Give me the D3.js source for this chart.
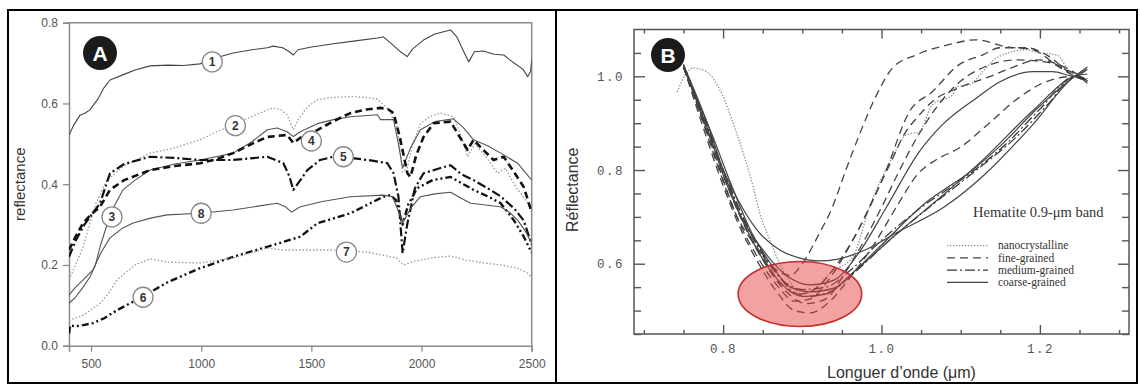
<!DOCTYPE html>
<html>
<head>
<meta charset="utf-8">
<script src="https://cdn.jsdelivr.net/npm/d3@7"></script>
<style>
  body { margin: 0; background: #fff; }
  svg { display: block; }
</style>
</head>
<body>
<div id="chart"></div>
<script>
// ---- panel A : reflectance spectra, wavelength (nm) / reflectance ----
const aTicksX = [500, 1000, 1500, 2000, 2500];
const aTicksY = [0, 0.2, 0.4, 0.6, 0.8];

const a1 = [[400,0.522],[420,0.545],[450,0.571],[470,0.575],[495,0.584],[530,0.61],[560,0.64],[586,0.658],[650,0.672],[700,0.683],[768,0.693],[850,0.695],[920,0.694],[995,0.698],[1060,0.712],[1145,0.725],[1230,0.733],[1300,0.738],[1327,0.742],[1370,0.738],[1400,0.728],[1418,0.72],[1440,0.733],[1500,0.74],[1600,0.748],[1700,0.755],[1800,0.762],[1827,0.765],[1859,0.75],[1900,0.73],[1935,0.716],[1960,0.735],[2009,0.757],[2060,0.772],[2132,0.782],[2160,0.765],[2190,0.73],[2214,0.703],[2240,0.728],[2280,0.73],[2330,0.722],[2373,0.72],[2420,0.7],[2460,0.685],[2482,0.666],[2495,0.68],[2500,0.708]];
const a2 = [[400,0.163],[430,0.2],[464,0.245],[520,0.35],[572,0.41],[650,0.445],[768,0.477],[880,0.49],[995,0.51],[1070,0.53],[1145,0.547],[1230,0.568],[1300,0.584],[1327,0.589],[1360,0.585],[1390,0.572],[1418,0.535],[1440,0.56],[1480,0.59],[1527,0.609],[1600,0.615],[1677,0.617],[1750,0.615],[1800,0.611],[1850,0.585],[1890,0.542],[1914,0.43],[1935,0.44],[1960,0.5],[1995,0.55],[2040,0.568],[2086,0.576],[2145,0.567],[2180,0.52],[2209,0.468],[2240,0.5],[2290,0.47],[2345,0.427],[2380,0.44],[2420,0.4],[2460,0.37],[2500,0.34]];
const a3 = [[400,0.105],[430,0.12],[464,0.145],[495,0.17],[520,0.2],[541,0.245],[590,0.33],[645,0.386],[700,0.41],[768,0.435],[880,0.45],[995,0.46],[1145,0.477],[1230,0.505],[1300,0.535],[1345,0.539],[1390,0.53],[1418,0.518],[1450,0.53],[1527,0.55],[1600,0.56],[1677,0.567],[1800,0.572],[1814,0.56],[1873,0.56],[1895,0.5],[1914,0.44],[1950,0.49],[1995,0.535],[2060,0.555],[2145,0.562],[2190,0.54],[2236,0.51],[2300,0.495],[2359,0.477],[2436,0.452],[2470,0.43],[2500,0.41]];
const a4 = [[400,0.237],[430,0.27],[464,0.304],[500,0.325],[541,0.344],[586,0.386],[650,0.41],[768,0.435],[880,0.445],[995,0.452],[1070,0.462],[1145,0.477],[1230,0.5],[1300,0.517],[1390,0.522],[1418,0.502],[1450,0.515],[1527,0.534],[1600,0.556],[1677,0.576],[1750,0.585],[1814,0.589],[1850,0.585],[1873,0.576],[1900,0.52],[1936,0.427],[1950,0.418],[1975,0.47],[2009,0.517],[2055,0.551],[2132,0.555],[2170,0.52],[2209,0.485],[2236,0.51],[2280,0.485],[2327,0.46],[2373,0.468],[2420,0.43],[2464,0.393],[2500,0.33]];
const a5 = [[400,0.22],[430,0.26],[470,0.3],[541,0.353],[586,0.427],[650,0.45],[768,0.468],[880,0.465],[995,0.46],[1145,0.46],[1300,0.468],[1373,0.452],[1400,0.42],[1418,0.386],[1450,0.41],[1482,0.435],[1540,0.46],[1600,0.468],[1677,0.465],[1755,0.46],[1845,0.452],[1873,0.427],[1895,0.37],[1914,0.229],[1935,0.3],[1970,0.39],[2009,0.427],[2086,0.44],[2132,0.447],[2180,0.425],[2236,0.41],[2300,0.39],[2359,0.37],[2420,0.34],[2464,0.31],[2500,0.25]];
const a6 = [[400,0.03],[405,0.05],[430,0.048],[464,0.051],[509,0.056],[560,0.068],[618,0.088],[723,0.118],[850,0.158],[995,0.192],[1145,0.22],[1300,0.245],[1450,0.27],[1527,0.303],[1677,0.328],[1827,0.369],[1859,0.373],[1885,0.36],[1914,0.3],[1940,0.35],[1980,0.39],[2050,0.41],[2132,0.418],[2190,0.4],[2236,0.386],[2300,0.37],[2359,0.353],[2420,0.31],[2464,0.27],[2500,0.23]];
const a7 = [[400,0.063],[464,0.075],[541,0.105],[580,0.13],[618,0.163],[700,0.2],[768,0.215],[845,0.207],[995,0.205],[1145,0.217],[1300,0.242],[1373,0.237],[1450,0.237],[1600,0.237],[1750,0.232],[1827,0.224],[1886,0.217],[1918,0.2],[1960,0.208],[2050,0.218],[2132,0.222],[2200,0.212],[2282,0.205],[2360,0.2],[2436,0.192],[2480,0.18],[2500,0.17]];
const a8 = [[400,0.125],[430,0.145],[464,0.163],[509,0.188],[545,0.23],[586,0.267],[640,0.29],[691,0.304],[770,0.316],[845,0.324],[995,0.328],[1145,0.336],[1250,0.345],[1345,0.353],[1380,0.345],[1410,0.331],[1450,0.344],[1550,0.357],[1677,0.369],[1827,0.373],[1868,0.369],[1890,0.34],[1914,0.304],[1950,0.34],[1995,0.369],[2060,0.376],[2132,0.38],[2180,0.365],[2223,0.353],[2300,0.348],[2359,0.344],[2400,0.33],[2436,0.311],[2470,0.285],[2500,0.254]];

// curve number labels (wavelength, reflectance)
const aLabels = [['1',1050,0.703],['2',1155,0.545],['3',595,0.319],['4',1500,0.507],['5',1645,0.468],['6',736,0.12],['7',1659,0.232],['8',1000,0.328]];

// ---- panel B : hematite 0.9 um band, wavelength (um) / reflectance ----
const bMajorX = [0.8, 1.0, 1.2];
const bMinorX = [0.7, 0.75, 0.85, 0.9, 0.95, 1.05, 1.1, 1.15, 1.25, 1.3];
const bMajorY = [0.6, 0.8, 1.0];
const bMinorY = [0.45, 0.5, 0.55, 0.65, 0.7, 0.75, 0.85, 0.9, 0.95, 1.05];

const bNano = [[0.742,0.967],[0.752,1.002],[0.762,1.018],[0.779,1.01],[0.796,0.971],[0.817,0.879],[0.838,0.764],[0.846,0.71],[0.859,0.651],[0.871,0.602],[0.885,0.56],[0.9,0.535],[0.915,0.545],[0.935,0.58],[0.964,0.615],[0.985,0.722],[1.014,0.828],[1.031,0.875],[1.048,0.882],[1.064,0.939],[1.09,0.961],[1.095,0.978],[1.111,0.982],[1.128,1.01],[1.145,1.039],[1.183,1.057],[1.199,1.05],[1.221,1.046],[1.241,1.003],[1.259,0.993]];
const bFine1 = [[0.75,1.025],[0.775,0.9],[0.795,0.8],[0.815,0.71],[0.84,0.64],[0.865,0.59],[0.885,0.575],[0.9,0.6],[0.92,0.66],[0.938,0.721],[0.955,0.8],[0.972,0.875],[0.994,0.961],[1.014,1.018],[1.044,1.046],[1.086,1.068],[1.119,1.078],[1.158,1.063],[1.191,1.057],[1.221,1.025],[1.241,1.008],[1.259,0.993]];
const bFine2 = [[0.75,1.02],[0.78,0.88],[0.8,0.78],[0.82,0.69],[0.845,0.61],[0.87,0.55],[0.89,0.52],[0.91,0.525],[0.935,0.57],[0.964,0.651],[0.985,0.72],[1.006,0.8],[1.035,0.924],[1.064,0.967],[1.098,1.025],[1.128,1.046],[1.149,1.061],[1.183,1.061],[1.212,1.042],[1.241,1.003],[1.26,0.99]];
const bFine3 = [[0.75,1.02],[0.78,0.885],[0.8,0.79],[0.822,0.7],[0.848,0.62],[0.872,0.56],[0.895,0.535],[0.915,0.545],[0.94,0.59],[0.97,0.67],[0.99,0.74],[1.01,0.81],[1.03,0.88],[1.045,0.912],[1.064,0.946],[1.098,0.976],[1.136,0.999],[1.158,1.014],[1.199,1.035],[1.233,1.018],[1.26,0.99]];
const bFine4 = [[0.75,1.02],[0.78,0.88],[0.805,0.77],[0.83,0.67],[0.855,0.595],[0.88,0.54],[0.905,0.515],[0.93,0.525],[0.95,0.57],[0.975,0.64],[1.0,0.72],[1.02,0.79],[1.045,0.87],[1.07,0.935],[1.1,0.99],[1.13,1.02],[1.17,1.035],[1.21,1.03],[1.244,1.0],[1.26,0.99]];
const bFine5 = [[0.75,1.02],[0.775,0.89],[0.795,0.79],[0.818,0.69],[0.845,0.6],[0.87,0.535],[0.89,0.5],[0.91,0.495],[0.935,0.52],[0.96,0.57],[0.99,0.64],[1.022,0.73],[1.045,0.79],[1.069,0.822],[1.098,0.847],[1.136,0.9],[1.17,0.95],[1.21,0.99],[1.244,1.0],[1.26,0.985]];
const bMed1 = [[0.75,1.02],[0.78,0.895],[0.8,0.8],[0.825,0.7],[0.85,0.62],[0.875,0.565],[0.9,0.545],[0.93,0.55],[0.96,0.585],[1.0,0.65],[1.05,0.72],[1.11,0.79],[1.16,0.86],[1.2,0.93],[1.244,1.0],[1.26,0.99]];
const bMed2 = [[0.75,1.02],[0.78,0.89],[0.805,0.78],[0.83,0.68],[0.86,0.6],[0.885,0.545],[0.905,0.53],[0.935,0.54],[0.965,0.58],[1.01,0.65],[1.06,0.72],[1.12,0.8],[1.17,0.87],[1.21,0.94],[1.244,1.0],[1.26,0.995]];
const bCoarse1 = [[0.75,1.025],[0.77,0.93],[0.79,0.84],[0.812,0.758],[0.843,0.672],[0.872,0.629],[0.897,0.612],[0.92,0.606],[0.945,0.61],[0.98,0.63],[1.02,0.667],[1.08,0.722],[1.13,0.79],[1.19,0.895],[1.244,1.0],[1.26,1.015]];
const bCoarse2 = [[0.75,1.025],[0.78,0.9],[0.8,0.8],[0.82,0.71],[0.85,0.63],[0.88,0.575],[0.91,0.555],[0.94,0.565],[0.97,0.62],[1.006,0.72],[1.048,0.84],[1.077,0.897],[1.12,0.954],[1.149,0.988],[1.191,1.01],[1.216,1.01],[1.244,1.0],[1.259,1.014]];
const bCoarse3 = [[0.75,1.02],[0.78,0.89],[0.8,0.79],[0.825,0.69],[0.85,0.61],[0.875,0.555],[0.9,0.53],[0.93,0.535],[0.96,0.575],[1.0,0.64],[1.052,0.725],[1.115,0.8],[1.149,0.85],[1.199,0.935],[1.244,1.0],[1.26,1.02]];
const bCoarse4 = [[0.75,1.02],[0.785,0.88],[0.81,0.77],[0.835,0.67],[0.86,0.6],[0.885,0.55],[0.91,0.54],[0.94,0.548],[0.97,0.59],[1.02,0.665],[1.08,0.75],[1.13,0.825],[1.19,0.925],[1.244,1.0],[1.26,1.005]];

const legendNames = ['nanocrystalline', 'fine-grained', 'medium-grained', 'coarse-grained'];
// highlighted minimum (centre wavelength, centre reflectance, half width, half height)
const bHighlight = [0.897, 0.5355, 0.078, 0.0694];

// ---------------------------------------------------------------
const W = 1140, H = 385;
const svg = d3.select('#chart').append('svg').attr('width', W).attr('height', H);

// outer frame and divider
svg.append('rect').attr('x', 8).attr('y', 10).attr('width', 1129).attr('height', 373)
  .attr('fill', 'none').attr('stroke', '#000').attr('stroke-width', 2);
svg.append('line').attr('x1', 556).attr('x2', 556).attr('y1', 10).attr('y2', 383)
  .attr('stroke', '#000').attr('stroke-width', 2);

// ================= panel A =================
const xA = d3.scaleLinear().domain([400, 2500]).range([69, 531.7]);
const yA = d3.scaleLinear().domain([0, 0.8]).range([345.7, 22.7]);
const gA = svg.append('g');

gA.append('defs').append('clipPath').attr('id', 'clipA')
  .append('rect').attr('x', 69).attr('y', 22.7).attr('width', 462.7).attr('height', 323);

// frame top + right
gA.append('path')
  .attr('d', `M${xA(400)},${yA(0.8)}H${xA(2500)}V${yA(0)}`)
  .attr('fill', 'none').attr('stroke', '#8a8a8a').attr('stroke-width', 1.5);

const axA = gA.append('g').attr('transform', `translate(${xA(400)},0)`)
  .call(d3.axisLeft(yA).tickValues(aTicksY).tickFormat(d3.format('.1f')).tickSize(6).tickPadding(5));
const axB = gA.append('g').attr('transform', `translate(0,${yA(0)})`)
  .call(d3.axisBottom(xA).tickValues(aTicksX).tickFormat(d3.format('d')).tickSize(6).tickPadding(8));
[axA, axB].forEach(g => {
  g.select('.domain').attr('stroke', '#8a8a8a').attr('stroke-width', 1.5);
  g.selectAll('.tick line').attr('stroke', '#8a8a8a').attr('stroke-width', 1.3);
  g.selectAll('.tick text').attr('fill', '#555').style('font', '12px "Liberation Sans", Arial, sans-serif');
});

gA.append('text')
  .attr('transform', `translate(25,${(yA(0) + yA(0.8)) / 2}) rotate(-90)`)
  .attr('text-anchor', 'middle')
  .attr('fill', '#333')
  .style('font', '15px "Liberation Sans", Arial, sans-serif')
  .text('reflectance');

const lineA = d3.line().x(d => xA(d[0])).y(d => yA(d[1]));
const seriesA = [
  { data: a1, dash: null, width: 1.1, color: '#444' },
  { data: a2, dash: '1.5,2', width: 1.3, color: '#999' },
  { data: a3, dash: null, width: 1.1, color: '#555' },
  { data: a4, dash: '7,4', width: 2.6, color: '#111' },
  { data: a5, dash: '9,3,2,3', width: 2.2, color: '#111' },
  { data: a6, dash: '7,3,2,3,2,3', width: 2.4, color: '#111' },
  { data: a7, dash: '1.5,2', width: 1.3, color: '#999' },
  { data: a8, dash: null, width: 1.1, color: '#555' }
];
const curvesA = gA.append('g').attr('clip-path', 'url(#clipA)');
seriesA.forEach(s => {
  curvesA.append('path')
    .attr('d', lineA(s.data))
    .attr('fill', 'none')
    .attr('stroke', s.color)
    .attr('stroke-width', s.width)
    .attr('stroke-dasharray', s.dash)
    .attr('stroke-linejoin', 'round');
});

const labA = gA.selectAll('.numlab').data(aLabels).enter().append('g')
  .attr('class', 'numlab')
  .attr('transform', d => `translate(${xA(d[1])},${yA(d[2])})`);
labA.append('circle').attr('r', 10).attr('fill', '#fff').attr('stroke', '#888').attr('stroke-width', 1.3);
labA.append('text').attr('text-anchor', 'middle').attr('dy', '0.36em')
  .attr('fill', '#333')
  .style('font', 'bold 12px "Liberation Sans", Arial, sans-serif')
  .text(d => d[0]);

// ================= panel B =================
const xB = d3.scaleLinear().domain([0.6875, 1.3125]).range([634, 1129]);
const yB = d3.scaleLinear().domain([0.45, 1.1]).range([334, 29.5]);
const gB = svg.append('g');

gB.append('defs').append('clipPath').attr('id', 'clipB')
  .append('rect').attr('x', 634).attr('y', 29.5).attr('width', 495).attr('height', 304.5);

gB.append('rect')
  .attr('x', xB.range()[0]).attr('y', yB.range()[1])
  .attr('width', xB.range()[1] - xB.range()[0]).attr('height', yB.range()[0] - yB.range()[1])
  .attr('fill', 'none').attr('stroke', '#555').attr('stroke-width', 1.5);

function ticksB(axis, pos, vals, size, labels) {
  const g = gB.append('g').attr('transform', pos)
    .call(axis.tickValues(vals).tickSize(-size).tickPadding(10)
      .tickFormat(labels ? d3.format('.1f') : ''));
  g.select('.domain').remove();
  g.selectAll('.tick line').attr('stroke', '#555').attr('stroke-width', 1.4);
  g.selectAll('.tick text').attr('fill', '#555')
    .style('font', '12.5px "Liberation Mono", "Courier New", monospace')
    .style('letter-spacing', '1.5px');
  return g;
}
ticksB(d3.axisLeft(yB), `translate(${xB.range()[0]},0)`, bMajorY, 11, true);
ticksB(d3.axisLeft(yB), `translate(${xB.range()[0]},0)`, bMinorY, 7, false);
ticksB(d3.axisRight(yB), `translate(${xB.range()[1]},0)`, bMajorY, 11, false);
ticksB(d3.axisRight(yB), `translate(${xB.range()[1]},0)`, bMinorY, 7, false);
ticksB(d3.axisBottom(xB), `translate(0,${yB.range()[0]})`, bMajorX, 9, true);
ticksB(d3.axisBottom(xB), `translate(0,${yB.range()[0]})`, bMinorX, 4, false);
ticksB(d3.axisTop(xB), `translate(0,${yB.range()[1]})`, bMajorX, 9, false);
ticksB(d3.axisTop(xB), `translate(0,${yB.range()[1]})`, bMinorX, 4, false);

gB.append('text')
  .attr('transform', `translate(578,${(yB.range()[0] + yB.range()[1]) / 2 + 8}) rotate(-90)`)
  .attr('text-anchor', 'middle').attr('fill', '#333')
  .style('font', '16px "Liberation Sans", Arial, sans-serif')
  .text('Réflectance');
gB.append('text')
  .attr('x', xB(1.0) + 20).attr('y', 378)
  .attr('text-anchor', 'middle').attr('fill', '#333')
  .style('font', '16px "Liberation Sans", Arial, sans-serif')
  .text('Longuer d\u2019onde (μm)');

const lineB = d3.line().x(d => xB(d[0])).y(d => yB(d[1])).curve(d3.curveMonotoneX);
const styleB = {
  nano: { dash: '1.3,1.7', width: 1.3, color: '#8a8a8a' },
  fine: { dash: '8,5', width: 1.3, color: '#444' },
  medium: { dash: '10,3,2,3', width: 1.2, color: '#333' },
  coarse: { dash: null, width: 1.2, color: '#444' }
};
const seriesB = [
  { data: bNano, kind: 'nano' },
  { data: bFine1, kind: 'fine' }, { data: bFine2, kind: 'fine' }, { data: bFine3, kind: 'fine' },
  { data: bFine4, kind: 'fine' }, { data: bFine5, kind: 'fine' },
  { data: bMed1, kind: 'medium' }, { data: bMed2, kind: 'medium' },
  { data: bCoarse1, kind: 'coarse' }, { data: bCoarse2, kind: 'coarse' },
  { data: bCoarse3, kind: 'coarse' }, { data: bCoarse4, kind: 'coarse' }
];
const curvesB = gB.append('g').attr('clip-path', 'url(#clipB)');
seriesB.forEach(s => {
  const st = styleB[s.kind];
  curvesB.append('path')
    .attr('d', lineB(s.data))
    .attr('fill', 'none')
    .attr('stroke', st.color)
    .attr('stroke-width', st.width)
    .attr('stroke-dasharray', st.dash);
});

// red highlight of the band minimum
gB.append('ellipse')
  .attr('cx', xB(bHighlight[0])).attr('cy', yB(bHighlight[1]))
  .attr('rx', xB(bHighlight[0] + bHighlight[2]) - xB(bHighlight[0]))
  .attr('ry', yB(bHighlight[1]) - yB(bHighlight[1] + bHighlight[3]))
  .attr('fill', '#e63c3c').attr('fill-opacity', 0.48)
  .attr('stroke', '#c62f2f').attr('stroke-width', 1.6);

// legend
const lg = gB.append('g').attr('transform', 'translate(947,0)');
lg.append('text').attr('x', 26).attr('y', 217).attr('fill', '#333')
  .style('font', '14.5px "Liberation Serif", "Times New Roman", serif')
  .text('Hematite 0.9-μm band');
const kinds = ['nano', 'fine', 'medium', 'coarse'];
const rows = lg.selectAll('.lrow').data(legendNames).enter().append('g')
  .attr('class', 'lrow')
  .attr('transform', (d, i) => `translate(0,${245.7 + i * 12.2})`);
rows.append('line').attr('x1', 0).attr('x2', 41)
  .attr('stroke', (d, i) => styleB[kinds[i]].color)
  .attr('stroke-width', (d, i) => styleB[kinds[i]].width)
  .attr('stroke-dasharray', (d, i) => styleB[kinds[i]].dash);
rows.append('text').attr('x', 51).attr('dy', '0.32em').attr('fill', '#333')
  .style('font', '11.5px "Liberation Serif", "Times New Roman", serif')
  .text(d => d);

// big panel badges
function badge(x, y, letter) {
  const g = svg.append('g').attr('transform', `translate(${x},${y})`);
  g.append('circle').attr('r', 17).attr('fill', '#1b1b1b');
  g.append('text').attr('text-anchor', 'middle').attr('dy', '0.36em').attr('fill', '#fff')
    .style('font', 'bold 21px "Liberation Sans", Arial, sans-serif').text(letter);
}
badge(100, 53, 'A');
badge(668, 55, 'B');
</script>
</body>
</html>
